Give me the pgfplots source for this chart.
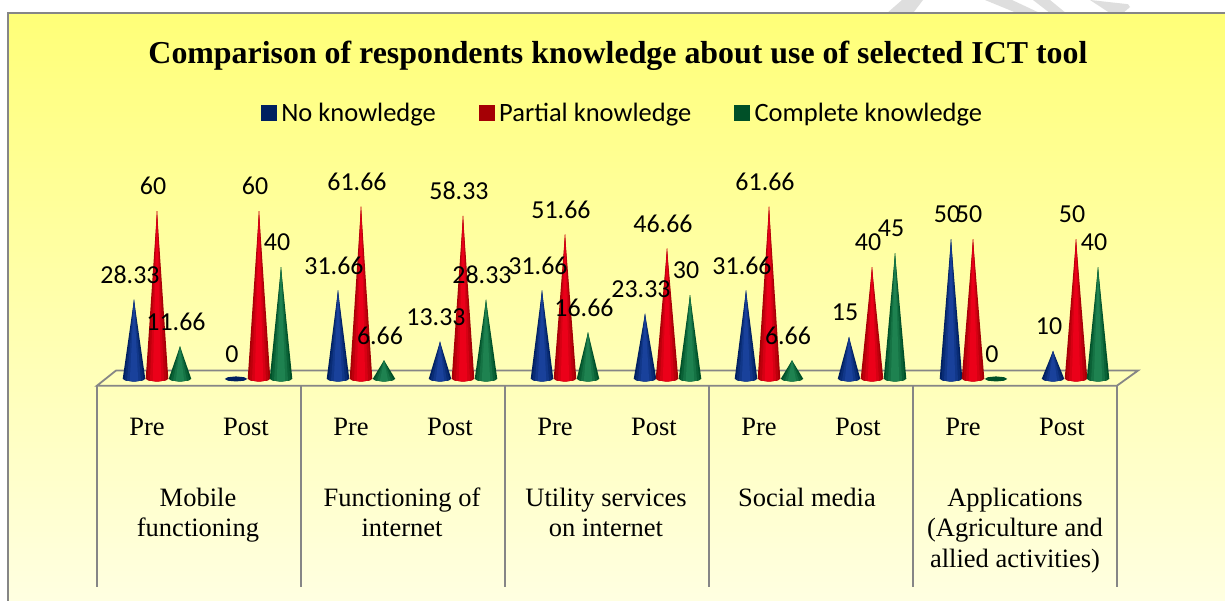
\documentclass[border=0pt]{standalone}
\usepackage{pgfplots}
\pgfplotsset{compat=1.18}
\usepackage{pgfplotstable}
\usepackage{fontspec}
\setmainfont{Liberation Serif}
\newfontfamily\calfont{Carlito}
\definecolor{cb}{RGB}{0,32,96}
\definecolor{cr}{RGB}{165,0,5}
\definecolor{cg}{RGB}{0,80,40}
\definecolor{cbm}{RGB}{25,65,155}
\definecolor{crm}{RGB}{235,0,25}
\definecolor{cgm}{RGB}{30,130,80}
\definecolor{fr}{RGB}{134,134,134}
% series tables: x position of the cone, value, label
\pgfplotstableread{
x y l
134 28.33 28.33
236 0 0
338 31.66 31.66
440 13.33 13.33
542 31.66 31.66
645 23.33 23.33
746 31.66 31.66
849 15 15
951 50 50
1053 10 10
}\noknow
\pgfplotstableread{
x y l
157 60 60
259 60 60
361 61.66 61.66
463 58.33 58.33
565 51.66 51.66
667 46.66 46.66
769 61.66 61.66
872 40 40
973 50 50
1076 50 50
}\partknow
\pgfplotstableread{
x y l
180 11.66 11.66
281 40 40
384 6.66 6.66
486 28.33 28.33
588 16.66 16.66
690 30 30
792 6.66 6.66
895 45 45
996 0 0
1098 40 40
}\compknow
% a cone from its centre and its value: nested slices, dark at the rim, bright in the middle
\newcommand\slice[5]{% centre, value, half width, base y, colour
 \pgfmathsetmacro\xa{#1-#3}\pgfmathsetmacro\xb{#1+#3}%
 \edef\tmp{\noexpand\addplot[forget plot,draw=none,fill=#5]
  coordinates {(\xa,#4)(#1,#2)(\xb,#4)(#1,-0.9)(\xa,#4)};}%
 \tmp}
\newcommand\cone[4]{%
 \pgfmathsetmacro\xa{#1-11.3}\pgfmathsetmacro\xb{#1+11.3}%
 \pgfmathsetmacro\xc{#1-8}\pgfmathsetmacro\xd{#1+8}%
 \edef\tmp{\noexpand\addplot[forget plot,draw=none,fill=#3]
  coordinates {(\xa,0)(#1,#2)(\xb,0)(\xd,-0.63)(#1,-0.9)(\xc,-0.63)(\xa,0)};}%
 \tmp
 \slice{#1}{#2}{9.5}{-0.45}{#4!35!#3}%
 \slice{#1}{#2}{7}{-0.65}{#4!70!#3}%
 \slice{#1}{#2}{4.2}{-0.8}{#4}}
\newcommand\zerocone[3]{%
 \pgfmathsetmacro\xa{#1-11.3}\pgfmathsetmacro\xb{#1+11.3}%
 \pgfmathsetmacro\xc{#1-8}\pgfmathsetmacro\xd{#1+8}%
 \edef\tmp{\noexpand\addplot[forget plot,draw=none,fill=#3]
  coordinates {(\xa,#2)(\xc,0.63)(#1,0.9)(\xd,0.63)(\xb,#2)(\xd,-0.63)(#1,-0.9)(\xc,-0.63)(\xa,#2)};}%
 \tmp}
\begin{document}
\begin{tikzpicture}
\begin{axis}[
  scale only axis, width=1225bp, height=601bp,
  xmin=0, xmax=1225, ymin=-79.4, ymax=135.5,
  axis lines=none, clip=true,
  legend style={at={(axis cs:622.5,95.2)},anchor=center,draw=none,fill=none,
    legend columns=3,font=\calfont\fontsize{26.6}{30}\selectfont,
    /tikz/every even column/.style={column sep=41bp},
    /tikz/every odd column/.style={column sep=3bp}},
  legend image code/.code={\fill[#1] (0bp,-7.5bp) rectangle (15bp,7.5bp);},
  legend cell align=left,
]
% whole page
\fill[white] (axis cs:0,-79.4) rectangle (axis cs:1225,135.5);
% watermark in the white margin
\fill[black!13] (axis cs:887,130.8) -- (axis cs:902,135.5) -- (axis cs:923,135.5) -- (axis cs:913,130.8) -- cycle;
\fill[black!13] (axis cs:985,135.5) -- (axis cs:1012,135.5) -- (axis cs:1040,130.8) -- (axis cs:1017,130.8) -- cycle;
\fill[black!13] (axis cs:1033,135.5) -- (axis cs:1050,135.5) -- (axis cs:1066,130.8) -- (axis cs:1050,130.8) -- cycle;
\fill[black!13] (axis cs:1090,135.5) -- (axis cs:1128,134) -- (axis cs:1130,133) -- (axis cs:1123,130.8) -- (axis cs:1110,130.8) -- cycle;
% panel and frame
\path[top color={rgb,255:red,255;green,255;blue,120},bottom color={rgb,255:red,255;green,255;blue,225}]
  (axis cs:8,130.8) rectangle (axis cs:1225,-79.4);
\begin{scope}[draw=fr,line width=1.8bp]
\draw (axis cs:1225,130.8) -- (axis cs:8,130.8) -- (axis cs:8,-79.4);
\draw (axis cs:97,-2.4) -- (axis cs:116,3) -- (axis cs:1138,3) -- (axis cs:1117,-2.4) -- cycle;
\foreach \x in {97,301,505,709,913,1117}
  {\edef\tmpa{\noexpand\draw (axis cs:\x,-2.4) -- (axis cs:\x,-74.4);}\tmpa}
\end{scope}
% cones
\cone{134}{28.33}{cb}{cbm}\zerocone{236}{0}{cb}
\cone{338}{31.66}{cb}{cbm}\cone{440}{13.33}{cb}{cbm}
\cone{542}{31.66}{cb}{cbm}\cone{645}{23.33}{cb}{cbm}
\cone{746}{31.66}{cb}{cbm}\cone{849}{15}{cb}{cbm}
\cone{951}{50}{cb}{cbm}\cone{1053}{10}{cb}{cbm}
\cone{157}{60}{cr}{crm}\cone{259}{60}{cr}{crm}
\cone{361}{61.66}{cr}{crm}\cone{463}{58.33}{cr}{crm}
\cone{565}{51.66}{cr}{crm}\cone{667}{46.66}{cr}{crm}
\cone{769}{61.66}{cr}{crm}\cone{872}{40}{cr}{crm}
\cone{973}{50}{cr}{crm}\cone{1076}{50}{cr}{crm}
\cone{180}{11.66}{cg}{cgm}\cone{281}{40}{cg}{cgm}
\cone{384}{6.66}{cg}{cgm}\cone{486}{28.33}{cg}{cgm}
\cone{588}{16.66}{cg}{cgm}\cone{690}{30}{cg}{cgm}
\cone{792}{6.66}{cg}{cgm}\cone{895}{45}{cg}{cgm}
\zerocone{996}{0}{cg}\cone{1098}{40}{cg}{cgm}
% value labels
\pgfplotsset{lab/.style={forget plot,draw=none,mark=none,nodes near coords,point meta=explicit symbolic,
  every node near coord/.style={anchor=center,xshift=-4bp,yshift=24.8bp,font=\calfont\fontsize{26}{30}\selectfont,text=black}}}
\addplot[lab] table[x=x,y=y,meta=l] {\noknow};
\addplot[lab] table[x=x,y=y,meta=l] {\partknow};
\addplot[lab] table[x=x,y=y,meta=l] {\compknow};
% legend
\addlegendimage{cb}\addlegendentry{No knowledge}
\addlegendimage{cr}\addlegendentry{Partial knowledge}
\addlegendimage{cg}\addlegendentry{Complete knowledge}
% text
\node[font=\bfseries\fontsize{32}{36}\selectfont] at (axis cs:618,115.6) {Comparison of respondents knowledge about use of selected ICT tool};
\foreach \x/\lb in {147/Pre,246/Post,351/Pre,450/Post,555/Pre,654/Post,759/Pre,858/Post,963/Pre,1062/Post}
  {\edef\tmpb{\noexpand\node[font=\noexpand\fontsize{26.6}{30}\noexpand\selectfont] at (axis cs:\x,-17.2) {\lb};}\tmpb}
\node[align=center,font=\fontsize{26.6}{30.5}\selectfont,anchor=north] at (axis cs:198,-37.7) {Mobile\\functioning};
\node[align=center,font=\fontsize{26.6}{30.5}\selectfont,anchor=north] at (axis cs:402,-37.7) {Functioning of\\internet};
\node[align=center,font=\fontsize{26.6}{30.5}\selectfont,anchor=north] at (axis cs:606,-37.7) {Utility services\\on internet};
\node[align=center,font=\fontsize{26.6}{30.5}\selectfont,anchor=north] at (axis cs:807,-37.7) {Social media};
\node[align=center,font=\fontsize{26.6}{30.5}\selectfont,anchor=north] at (axis cs:1015,-37.7) {Applications\\(Agriculture and\\allied activities)};
\end{axis}
\end{tikzpicture}
\end{document}
